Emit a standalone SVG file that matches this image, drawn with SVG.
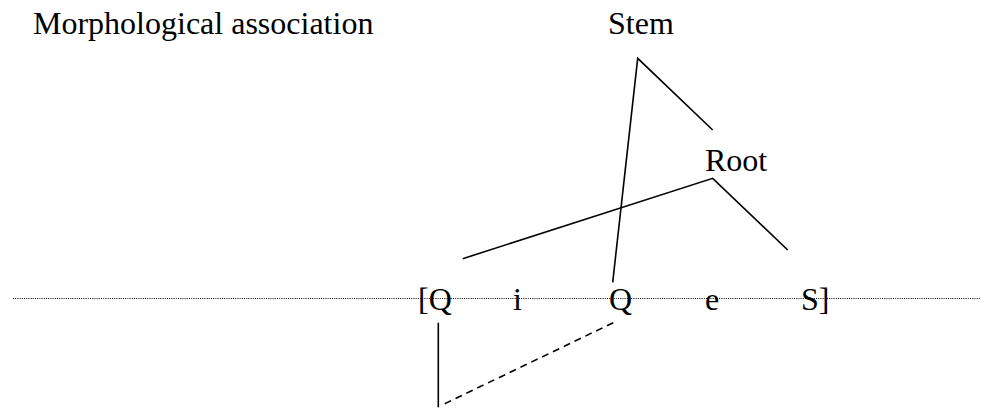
<svg xmlns="http://www.w3.org/2000/svg" width="981" height="418" viewBox="0 0 981 418">
<style>
text{font-family:"Liberation Serif","Times New Roman",serif;font-size:32px;fill:#000}
.l{stroke:#000;stroke-width:1.6;fill:none}
.d{stroke:#000;stroke-width:1.6;fill:none;stroke-dasharray:7 5}
.tier{stroke:#000;stroke-width:1;stroke-dasharray:1 1.2;fill:none}
</style>
<rect width="981" height="418" fill="#fff"/>
<g id="title"><text x="33" y="34">Morphological association</text></g>
<g id="tier"><line class="tier" x1="13" y1="298.5" x2="981" y2="298.5"/></g>
<g id="stem"><text x="608" y="34">Stem</text></g>
<g id="root"><text x="705" y="171">Root</text></g>
<g id="seg-lbracket-Q"><text x="418" y="310">[Q</text></g>
<g id="seg-i"><text x="513" y="310">i</text></g>
<g id="seg-Q"><text x="609" y="310">Q</text></g>
<g id="seg-e"><text x="705" y="310">e</text></g>
<g id="seg-S"><text x="801" y="310">S]</text></g>
<g id="connectors">
<polyline class="l" points="612.7,282.3 637.7,58.3 712.7,130"/>
<polyline class="l" points="462.7,258.7 712.7,178.3 787.7,250"/>
<line class="l" x1="438.3" y1="322.7" x2="438.3" y2="407.3"/>
<line class="d" x1="613.3" y1="322.7" x2="442" y2="405"/>
</g>
</svg>
